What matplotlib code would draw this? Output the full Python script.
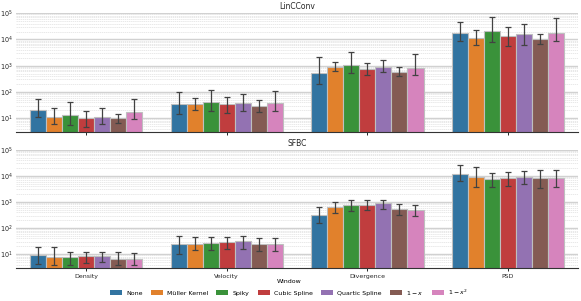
import numpy as np
import matplotlib
matplotlib.use("Agg")
import matplotlib.pyplot as plt
import matplotlib.ticker as mticker
from matplotlib.patches import Patch
import seaborn as sns

categories = ["Density", "Velocity", "Divergence", "PSD"]
windows = ["None", "Müller Kernel", "Spiky", "Cubic Spline", "Quartic Spline", "$1-x$", "$1-x^2$"]
panels = ["LinCConv", "SFBC"]

# LinCConv: mean, lower err end, upper err end  [category][window]
lin_mean = [
    [20.7, 10.9, 13.4, 10.0, 11.5, 10.0, 16.9],
    [35, 34, 42.8, 34, 38, 30, 37],
    [546, 877, 1100, 776, 900, 596, 800],
    [17300, 11170, 21200, 13650, 15850, 10770, 17300],
]
lin_lo = [
    [10.9, 5.9, 5.4, 4.7, 5.9, 6.6, 9.2],
    [14.2, 20.2, 17.9, 15.5, 19, 17.4, 19],
    [203, 634, 546, 434, 580, 398, 434],
    [8570, 6200, 7850, 5670, 6370, 6590, 8570],
]
lin_hi = [
    [53, 24, 41.8, 17.9, 25.3, 14.2, 53],
    [103, 61, 120, 63, 82, 48.5, 112],
    [2222, 1360, 3270, 1245, 1620, 877, 2820],
    [46600, 22500, 70500, 30900, 39100, 15850, 64600],
]

# SFBC
sf_mean = [
    [9.4, 7.7, 7.6, 8.2, 8.6, 6.3, 6.3],
    [24.9, 25.5, 26.5, 28, 30.8, 24.2, 23.5],
    [313, 635, 738, 781, 881, 519, 474],
    [11400, 8750, 7540, 8000, 8970, 8220, 8000],
]
sf_lo = [
    [4.1, 4.0, 4.0, 4.5, 5.1, 3.7, 3.7],
    [10.6, 13.9, 13.9, 15.2, 15.2, 12.7, 12.7],
    [151, 364, 434, 474, 547, 305, 279],
    [6140, 3610, 3720, 3950, 4710, 3400, 3610],
]
sf_hi = [
    [19, 18.1, 12.3, 12.3, 12.3, 11.6, 11.2],
    [50, 46, 43.7, 46, 47.8, 40, 40],
    [618, 1010, 1150, 1150, 1150, 805, 738],
    [25200, 21100, 12500, 13600, 14900, 16200, 16200],
]

data = [(lin_mean, lin_lo, lin_hi), (sf_mean, sf_lo, sf_hi)]

base = plt.get_cmap("tab10").colors[:7]
colors = [sns.desaturate(c, 0.75) for c in base]

fig = plt.figure(figsize=(5.81, 3.01), dpi=100)
axes = [fig.add_axes([0.0275, 0.5615, 0.9675, 0.3945]),
        fig.add_axes([0.0275, 0.1096, 0.9675, 0.3931])]

n = len(windows)
total_w = 0.8
bw = total_w / n
x = np.arange(len(categories))

for ax, title, (mean, lo, hi) in zip(axes, panels, data):
    mean = np.array(mean, dtype=float)
    lo = np.array(lo, dtype=float)
    hi = np.array(hi, dtype=float)
    ax.set_yscale("log")
    for j in range(n):
        pos = x - total_w / 2 + bw * (j + 0.5)
        ax.bar(pos, mean[:, j], width=bw, color=colors[j], edgecolor="0.75",
               linewidth=0.8, zorder=2)
        yerr = np.vstack([mean[:, j] - lo[:, j], hi[:, j] - mean[:, j]])
        ax.errorbar(pos, mean[:, j], yerr=yerr, fmt="none", ecolor="0.26",
                    elinewidth=0.9, capsize=2.4, capthick=0.9, zorder=3)
    ax.set_xlim(-0.5, len(categories) - 0.5)
    ax.set_ylim(2.95, 1e5)
    ax.set_xticks(x)
    ax.yaxis.set_major_locator(mticker.LogLocator(base=10, numticks=10))
    ax.yaxis.set_minor_locator(mticker.LogLocator(base=10, subs=np.arange(2, 10), numticks=20))
    ax.yaxis.set_minor_formatter(mticker.NullFormatter())
    ax.grid(True, which="major", axis="y", color="0.82", linewidth=1.0, zorder=0)
    ax.grid(True, which="minor", axis="y", color="0.88", linewidth=0.5,
            linestyle=(0, (2, 1)), zorder=0)
    ax.set_axisbelow(True)
    for s in ["left", "right", "top"]:
        ax.spines[s].set_visible(False)
    ax.spines["bottom"].set_color("0.2")
    ax.spines["bottom"].set_linewidth(0.8)
    ax.tick_params(axis="y", which="both", length=0, labelsize=4.7, pad=2, labelcolor="0.15")
    ax.tick_params(axis="x", length=2, width=0.6, labelsize=4.5, pad=2, labelcolor="0.15")
    ax.set_title(title, fontsize=5.5, pad=3, color="0.15")

axes[0].set_xticklabels([])
axes[1].set_xticklabels(categories)

handles = [Patch(facecolor=colors[j], edgecolor="none") for j in range(n)]
fig.legend(handles, windows, loc="lower center", bbox_to_anchor=(0.497, -0.005),
           ncol=n, frameon=False, fontsize=4.5, title="Window", title_fontsize=4.5,
           handlelength=1.9, handleheight=0.8, columnspacing=1.35, handletextpad=0.65)

fig.savefig("out.png", dpi=100)
